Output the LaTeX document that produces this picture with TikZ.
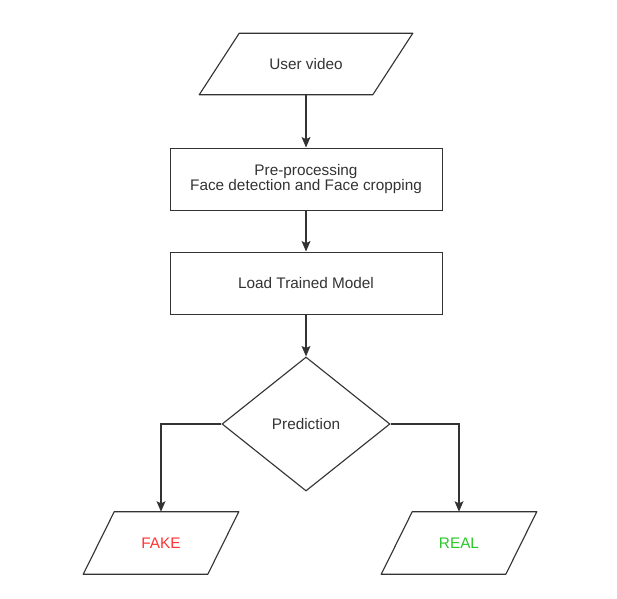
\documentclass[tikz,border=0pt]{standalone}
\usepackage{fontspec}
\setmainfont{Liberation Sans}
\usepackage{tikz}
\usetikzlibrary{arrows,arrows.meta,shapes,positioning}
\usepackage{xcolor}
\definecolor{fcline}{RGB}{51,51,51}
\definecolor{fcred}{RGB}{255,51,51}
\definecolor{fcgreen}{RGB}{40,200,40}
\tikzstyle{arrow} = [line width=0.9pt,-{Stealth[length=2.6mm,width=2.2mm,inset=0.5mm]},color=fcline]
\tikzstyle{process} = [rectangle, minimum width=6.8cm, minimum height=1.55cm, text centered, align=center, draw=fcline, line width=0.7pt, text=fcline]
\tikzset{io/.style={rectangle, inner sep=0pt, text centered, text=fcline,
  append after command={\pgfextra{\draw[fcline, line width=0.8pt, line join=round]
    ([xshift=#1]\tikzlastnode.north west) -- ([xshift=#1]\tikzlastnode.north east)
    -- ([xshift=-#1]\tikzlastnode.south east) -- ([xshift=-#1]\tikzlastnode.south west) -- cycle;}}}}
\tikzstyle{video} = [io=0.5cm, minimum width=4.325cm, minimum height=1.525cm]
\tikzstyle{result} = [io=0.3875cm, minimum width=3.1cm, minimum height=1.55cm]
\tikzstyle{decision} = [diamond, minimum width=4.2cm, minimum height=3.35cm, inner sep=0pt, text centered, draw=fcline, line width=0.8pt, text=fcline]

\begin{document}
\begin{tikzpicture}[font=\fontsize{10.9}{10}\selectfont]
\useasboundingbox (0,0) rectangle (15.425,-14.95);
% Main flow
\node (user) [video] at (7.65,-1.6) {User video};
\node (pre) [process, below of=user, node distance=2.875cm] {Pre-processing\\Face detection and Face cropping};
\node (load) [process, below of=pre, node distance=2.6cm] {Load Trained Model};
\node (pred) [decision, below of=load, node distance=3.525cm] {Prediction};

% Outcomes
\node (fake) [result, below of=pred, node distance=2.975cm, xshift=-3.625cm, text=fcred] {FAKE};
\node (real) [result, below of=pred, node distance=2.975cm, xshift=3.825cm, text=fcgreen] {REAL};

% Arrows
\draw[arrow] (user) -- (pre);
\draw[arrow] (pre) -- (load);
\draw[arrow] (load) -- (pred);
\draw[arrow] (pred.west) -| (fake);
\draw[arrow] (pred.east) -| (real);
\end{tikzpicture}
\end{document}
